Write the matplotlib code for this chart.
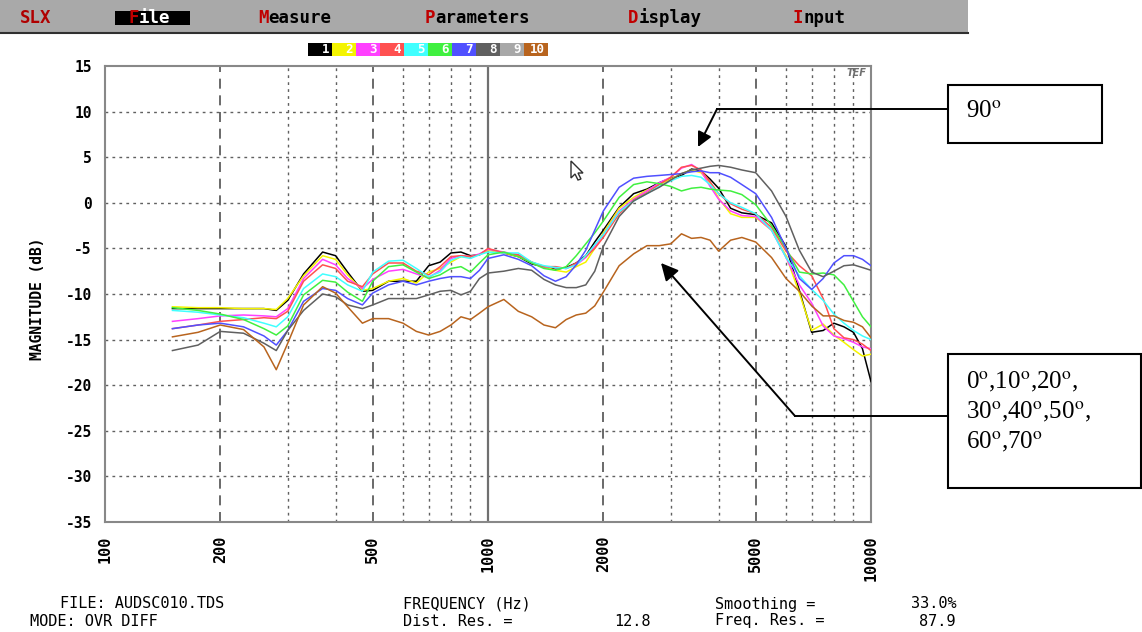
import matplotlib
matplotlib.use('Agg')
import matplotlib.pyplot as plt
from matplotlib.patches import Rectangle, Polygon

W, H = 1142, 632
MONO = 'DejaVu Sans Mono'

# frequency points (Hz)
freq_hz = [150, 175, 200, 230, 260, 280, 300, 330, 370, 400,
           430, 470, 500, 550, 600, 650, 700, 750, 800, 850,
           900, 950, 1000, 1100, 1200, 1300, 1400, 1500, 1600, 1700,
           1800, 1900, 2000, 2200, 2400, 2600, 2800, 3000, 3200, 3400,
           3600, 3800, 4000, 4300, 4600, 5000, 5500, 6000, 6500, 7000,
           7500, 8000, 8500, 9000, 9500, 10000]

# magnitude traces (dB)
trace_1 = [-11.6, -11.6, -11.6, -11.6, -11.6, -11.8, -10.7, -7.8, -5.4, -5.8,
           -7.6, -9.7, -9.6, -8.6, -8.6, -8.6, -6.9, -6.5, -5.5, -5.4,
           -5.8, -5.7, -5.1, -5.5, -5.9, -6.7, -7.0, -7.3, -7.1, -6.6,
           -5.8, -4.3, -3.0, -0.5, 1.0, 1.5, 2.2, 2.7, 3.0, 3.7,
           3.5, 2.6, 1.6, -0.6, -1.1, -1.3, -2.2, -4.8, -9.6, -14.2,
           -14.0, -13.2, -13.6, -14.2, -16.0, -19.6]
trace_2 = [-11.4, -11.5, -11.5, -11.6, -11.6, -11.7, -10.5, -8.0, -5.8, -6.2,
           -7.9, -9.6, -9.4, -8.6, -8.3, -8.8, -7.6, -7.2, -6.5, -5.9,
           -5.9, -5.7, -5.2, -5.5, -5.9, -6.5, -7.0, -7.4, -7.6, -7.0,
           -6.5, -5.0, -3.3, -0.6, 0.6, 1.4, 2.0, 2.6, 3.2, 3.6,
           3.3, 2.2, 0.5, -1.2, -1.6, -1.6, -3.0, -5.8, -9.9, -14.0,
           -13.3, -14.5, -15.3, -16.1, -16.8, -16.6]
trace_3 = [-13.0, -12.7, -12.4, -12.3, -12.4, -12.5, -11.6, -8.3, -6.2, -6.8,
           -8.3, -9.4, -8.4, -7.5, -7.3, -7.8, -8.2, -7.4, -6.1, -5.8,
           -5.9, -5.6, -5.1, -5.4, -5.7, -6.6, -7.0, -7.1, -7.2, -6.8,
           -6.0, -4.8, -3.5, -0.9, 0.4, 1.3, 2.2, 2.8, 3.8, 4.2,
           3.5, 1.8, 0.4, -0.9, -1.4, -1.5, -3.0, -6.0, -9.0, -11.0,
           -13.5, -14.6, -14.9, -15.3, -15.8, -16.0]
trace_4 = [-13.8, -13.4, -13.0, -12.8, -12.6, -12.7, -11.9, -8.6, -6.8, -7.2,
           -8.6, -9.2, -7.8, -6.6, -6.6, -7.5, -7.9, -7.0, -5.9, -5.8,
           -5.9, -5.7, -5.0, -5.5, -5.7, -6.5, -7.0, -7.0, -7.2, -6.6,
           -5.9, -5.0, -3.8, -1.2, 0.3, 1.1, 2.0, 2.8, 3.9, 4.1,
           3.6, 2.3, 1.0, -0.1, -0.7, -1.2, -2.7, -5.3, -6.9, -8.0,
           -10.5, -13.8, -14.8, -15.0, -15.5, -16.2]
trace_5 = [-11.8, -12.0, -12.3, -12.6, -13.2, -13.6, -12.5, -9.4, -7.8, -8.1,
           -9.0, -9.7, -7.6, -6.4, -6.3, -7.2, -8.1, -7.6, -6.3, -5.9,
           -6.1, -5.7, -5.4, -5.5, -5.5, -6.5, -6.9, -7.1, -7.2, -6.8,
           -5.8, -4.6, -3.5, -1.0, 0.2, 1.0, 1.8, 2.4, 2.9, 3.0,
           2.8, 2.0, 1.0, 0.0, -0.5, -1.2, -3.0, -6.0, -8.0, -9.5,
           -10.7, -12.2, -13.2, -14.0, -14.6, -15.0]
trace_6 = [-11.5, -11.8, -12.2, -12.8, -13.8, -14.5, -13.5, -10.1, -8.5, -8.7,
           -9.8, -10.8, -8.6, -7.0, -6.8, -7.6, -8.3, -7.9, -7.2, -7.0,
           -7.6, -6.6, -5.7, -5.4, -5.9, -6.6, -7.2, -7.4, -7.0, -5.8,
           -4.5, -3.3, -2.0, 0.6, 2.0, 2.3, 2.1, 1.8, 1.3, 1.6,
           1.7, 1.5, 1.4, 1.3, 0.9, -0.2, -2.5, -5.0, -7.6, -7.8,
           -7.7, -7.9, -9.0, -10.8, -12.5, -13.6]
trace_7 = [-13.8, -13.4, -13.2, -13.6, -14.6, -15.6, -14.0, -10.8, -9.4, -9.6,
           -10.5, -11.2, -9.9, -9.0, -8.6, -9.0, -8.6, -8.3, -8.1, -8.1,
           -8.3, -7.4, -6.1, -5.7, -6.2, -6.9, -8.0, -8.6, -8.1, -6.8,
           -5.2, -3.0, -0.9, 1.7, 2.7, 2.9, 3.0, 3.1, 3.2, 3.4,
           3.5, 3.3, 3.3, 2.8, 2.0, 1.0, -1.6, -5.0, -8.3, -9.5,
           -8.3, -6.6, -5.8, -5.8, -6.2, -6.9]
trace_8 = [-16.2, -15.6, -14.1, -14.3, -15.4, -16.2, -14.0, -11.8, -10.0, -10.3,
           -11.2, -11.6, -11.2, -10.5, -10.5, -10.5, -10.1, -9.7, -9.6, -10.1,
           -9.7, -8.3, -7.7, -7.5, -7.2, -7.4, -8.4, -9.0, -9.3, -9.3,
           -9.0, -7.5, -4.8, -1.5, 0.2, 1.0, 1.7, 2.5, 3.2, 3.6,
           3.8, 4.0, 4.1, 3.9, 3.6, 3.3, 1.3, -1.5, -5.2, -7.6,
           -8.1, -7.5, -6.9, -6.8, -7.1, -7.4]
trace_10 = [-14.7, -14.2, -13.4, -13.9, -15.8, -18.3, -15.4, -11.2, -9.2, -9.9,
            -11.4, -13.2, -12.7, -12.7, -13.2, -14.1, -14.5, -14.1, -13.4, -12.5,
            -12.8, -12.1, -11.4, -10.6, -11.9, -12.5, -13.4, -13.7, -12.8, -12.3,
            -12.1, -11.3, -9.8, -6.9, -5.6, -4.7, -4.7, -4.5, -3.4, -3.9,
            -3.8, -4.1, -5.3, -4.1, -3.8, -4.3, -6.0, -8.3, -9.7, -11.3,
            -12.4, -12.4, -12.9, -13.1, -13.6, -14.8]

trace_colors = ['#000000', '#f4f400', '#ff40ff', '#ff5050', '#40ffff',
                '#40f040', '#5050ff', '#606060', '#a8a8a8', '#b8641e']
traces = {1: trace_1, 2: trace_2, 3: trace_3, 4: trace_4, 5: trace_5,
          6: trace_6, 7: trace_7, 8: trace_8, 10: trace_10}

y_ticks = list(range(-35, 16, 5))
x_ticks = [100, 200, 500, 1000, 2000, 5000, 10000]
x_minor = [300, 400, 600, 700, 800, 900, 3000, 4000, 6000, 7000, 8000, 9000]
x_dashed = [200, 500, 2000, 5000]

fig = plt.figure(figsize=(W / 100, H / 100), dpi=100)
fig.patch.set_facecolor('white')

# main plot area
ax = fig.add_axes([105 / W, 1 - 522 / H, 766 / W, 456 / H])
ax.set_xscale('log')
ax.set_xlim(100, 10000)
ax.set_ylim(-35, 15)

for yv in y_ticks[1:-1]:
    ax.axhline(yv, color='#606060', lw=1.0, ls=(0, (2, 3)), zorder=1)
for xv in x_minor:
    ax.axvline(xv, color='#606060', lw=1.0, ls=(0, (2, 3)), zorder=1)
for xv in x_dashed:
    ax.axvline(xv, color='#505050', lw=1.2, ls=(0, (6, 4)), zorder=1)
ax.axvline(1000, color='#707070', lw=1.6, zorder=1)

for num, vals in traces.items():
    ax.plot(freq_hz, vals, color=trace_colors[num - 1], lw=1.1, zorder=3)

for sp in ax.spines.values():
    sp.set_color('#888888')
    sp.set_linewidth(1.5)

ax.set_yticks(y_ticks)
ax.set_yticklabels([str(v) for v in y_ticks])
ax.set_xticks(x_ticks)
ax.set_xticklabels([str(v) for v in x_ticks], rotation=90)
ax.xaxis.set_minor_locator(matplotlib.ticker.NullLocator())
ax.tick_params(axis='y', length=0, pad=9.5)
ax.tick_params(axis='x', length=0, pad=9.5)
for lab in ax.get_yticklabels():
    lab.set_fontfamily(MONO)
    lab.set_fontweight('bold')
    lab.set_fontsize(10.5)
for lab in ax.get_xticklabels():
    lab.set_fontfamily(MONO)
    lab.set_fontweight('bold')
    lab.set_fontsize(11)

# overlay in pixel coordinates for the screen decoration
ov = fig.add_axes([0, 0, 1, 1], zorder=5)
ov.set_xlim(0, W)
ov.set_ylim(H, 0)
ov.axis('off')
ov.patch.set_alpha(0)

# menu bar
ov.add_patch(Rectangle((0, 0), 968, 32, facecolor='#a9a9a9', edgecolor='none'))
ov.plot([0, 968], [32.5, 32.5], color='#303030', lw=1.5)
fs_menu = 12.5
cw = 0.602 * fs_menu * 100 / 72
ov.add_patch(Rectangle((115, 11), 75, 14, facecolor='black', edgecolor='none'))
menu = [(20, 'SLX', None), (128, 'File', 'white'), (258, 'Measure', 'black'),
        (425, 'Parameters', 'black'), (628, 'Display', 'black'),
        (793, 'Input', 'black')]
for mx, word, rest_col in menu:
    if rest_col is None:
        ov.text(mx, 18, word, color='#b00000', fontsize=fs_menu, family=MONO,
                fontweight='bold', va='center', ha='left')
        continue
    ov.text(mx, 18, word[0], color='#c00000', fontsize=fs_menu, family=MONO,
            fontweight='bold', va='center', ha='left')
    ov.text(mx + cw, 18, word[1:], color=rest_col, fontsize=fs_menu, family=MONO,
            fontweight='bold', va='center', ha='left')

# trace number boxes
for i in range(10):
    bx = 308 + i * 24
    ov.add_patch(Rectangle((bx, 43), 24, 13, facecolor=trace_colors[i],
                           edgecolor='none'))
    ov.text(bx + 21, 49.5, str(i + 1), color='white', fontsize=9, family=MONO,
            fontweight='bold', ha='right', va='center')

# y axis title
ov.text(37, 299, 'MAGNITUDE (dB)', rotation=90, ha='center', va='center',
        fontsize=10.5, family=MONO, fontweight='bold')

# little logo and mouse cursor
ov.text(856, 73, 'TEF', ha='center', va='center', fontsize=7, color='#707070',
        fontstyle='italic', fontweight='bold', family='DejaVu Sans')
cur = [(0, 0), (0, 17), (4, 13), (7, 19), (10, 18), (7, 12), (12, 12)]
ov.add_patch(Polygon([(571 + a, 161 + b) for a, b in cur], closed=True,
                     facecolor='white', edgecolor='#303030', lw=1.0))

# footer
fs_ft = 11
r1, r2 = 604, 621
ov.text(60, r1, 'FILE: AUDSC010.TDS', fontsize=fs_ft, family=MONO, va='center')
ov.text(30, r2, 'MODE: OVR DIFF', fontsize=fs_ft, family=MONO, va='center')
ov.text(403, r1, 'FREQUENCY (Hz)', fontsize=fs_ft, family=MONO, va='center')
ov.text(403, r2, 'Dist. Res. =', fontsize=fs_ft, family=MONO, va='center')
ov.text(651, r2, '12.8', fontsize=fs_ft, family=MONO, va='center', ha='right')
ov.text(715, r1, 'Smoothing =', fontsize=fs_ft, family=MONO, va='center')
ov.text(957, r1, '33.0%', fontsize=fs_ft, family=MONO, va='center', ha='right')
ov.text(715, r2, 'Freq. Res. =', fontsize=fs_ft, family=MONO, va='center')
ov.text(955, r2, '87.9', fontsize=fs_ft, family=MONO, va='center', ha='right')

# annotation boxes and arrows
plt.rcParams['mathtext.fontset'] = 'stix'
SERIF = 'Liberation Serif'
ov.add_patch(Rectangle((948, 85), 154, 58, facecolor='white',
                       edgecolor='black', lw=1.5))
ov.text(966, 112, '90$^{\\mathrm{o}}$', fontsize=18, family=SERIF,
        ha='left', va='center')
ov.add_patch(Rectangle((948, 354), 193, 134, facecolor='white',
                       edgecolor='black', lw=1.5))
for k, line in enumerate(['0$^{\\mathrm{o}}$,10$^{\\mathrm{o}}$,20$^{\\mathrm{o}}$,',
                          '30$^{\\mathrm{o}}$,40$^{\\mathrm{o}}$,50$^{\\mathrm{o}}$,',
                          '60$^{\\mathrm{o}}$,70$^{\\mathrm{o}}$']):
    ov.text(966, 382 + 30 * k, line, fontsize=18, family=SERIF,
            ha='left', va='center')

ov.plot([948, 717], [109, 109], color='black', lw=1.4)
ov.annotate('', xy=(698, 147), xytext=(717, 109),
            arrowprops=dict(arrowstyle='-|>', color='black', lw=1.4,
                            mutation_scale=22, shrinkA=0, shrinkB=0))
ov.plot([948, 795], [416, 416], color='black', lw=1.4)
ov.annotate('', xy=(661, 263), xytext=(795, 416),
            arrowprops=dict(arrowstyle='-|>', color='black', lw=1.4,
                            mutation_scale=26, shrinkA=0, shrinkB=0))

fig.savefig('out.png', dpi=100, facecolor='white')
